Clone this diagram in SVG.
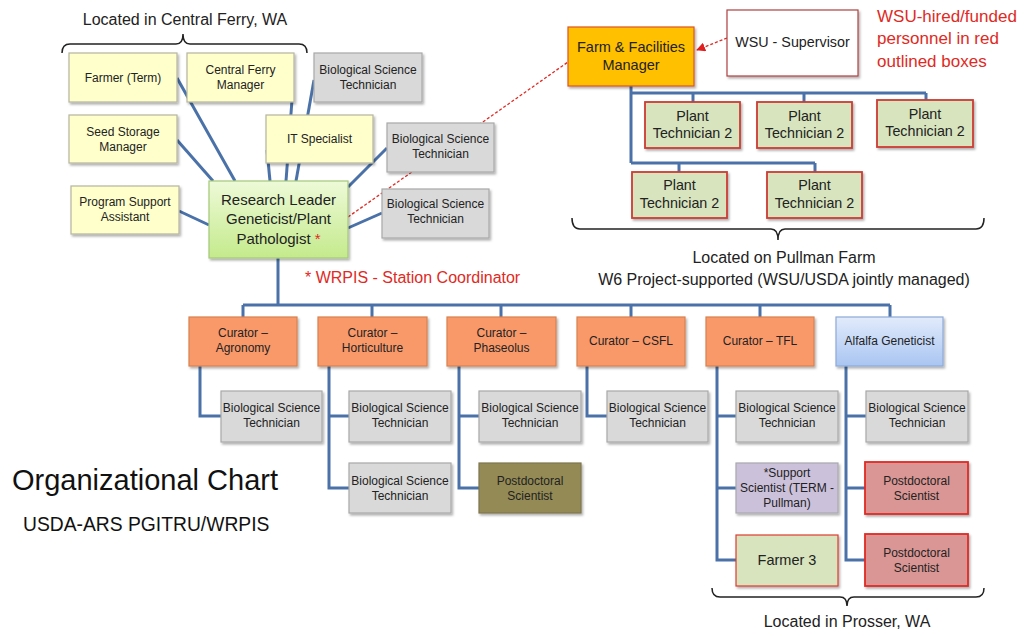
<svg xmlns="http://www.w3.org/2000/svg" width="1024" height="636" viewBox="0 0 1024 636">
<defs>
<filter id="sh" x="-10%" y="-10%" width="125%" height="130%">
<feDropShadow dx="1.5" dy="2" stdDeviation="1.2" flood-color="#000" flood-opacity="0.3"/>
</filter>
<linearGradient id="gGreen" x1="0" y1="0" x2="0" y2="1">
<stop offset="0" stop-color="#eefad8"/><stop offset="1" stop-color="#c4ea8c"/>
</linearGradient>
<linearGradient id="gBlue" x1="0" y1="0" x2="0" y2="1">
<stop offset="0" stop-color="#e2ebfb"/><stop offset="1" stop-color="#a9c5f2"/>
</linearGradient>
<marker id="ah" viewBox="0 0 10 10" refX="9" refY="5" markerWidth="7" markerHeight="7" orient="auto">
<path d="M0,0 L10,5 L0,10 z" fill="#e02020"/>
</marker>
</defs>
<style>
text{font-family:"Liberation Sans",Arial,sans-serif;fill:#222;text-anchor:middle}
.t12{font-size:12px}
.t14{font-size:14.3px}
.box{filter:url(#sh);stroke-width:1.2}
.yel{fill:#ffffcc;stroke:#b5b5a0}
.gry{fill:#d9d9d9;stroke:#a8a8a8}
.cur{fill:#f9996a;stroke:#d8804e}
.pt{fill:#d7e4bd;stroke:#cc3b33;stroke-width:1.8}
.rpd{fill:#da9694;stroke:#e02a24;stroke-width:1.8}
.con{fill:none;stroke:#4a72a8;stroke-width:3}
.brace{fill:none;stroke:#222;stroke-width:1.5}
.lbl{font-size:16px}
.red{fill:#e02a24}
</style>
<rect width="1024" height="636" fill="#fff"/>

<g id="connectors">
<line class="con" x1="235" y1="181" x2="177" y2="78"/>
<line class="con" x1="213" y1="181" x2="177" y2="140"/>
<line class="con" x1="209" y1="225" x2="179" y2="211"/>
<line class="con" x1="270" y1="181" x2="267" y2="150"/>
<line class="con" x1="286" y1="181" x2="292" y2="100"/>
<line class="con" x1="296" y1="181" x2="314" y2="80"/>
<line class="con" x1="348" y1="187" x2="387" y2="148"/>
<line class="con" x1="348" y1="228" x2="382" y2="213"/>
<path class="con" d="M278,258 V305 M243,305 H890 M243,305 V317 M372,305 V317 M501,305 V317 M631,305 V317 M760,305 V317 M890,305 V317"/>
<path class="con" d="M200,366 V416 H221"/>
<path class="con" d="M329,366 V488 H349 M329,416 H349"/>
<path class="con" d="M459,366 V488 H479 M459,416 H479"/>
<path class="con" d="M587,366 V416 H607"/>
<path class="con" d="M717,366 V560 H736 M717,416 H736 M717,488 H736"/>
<path class="con" d="M846,366 V560 H865 M846,416 H866 M846,488 H865"/>
<path class="con" d="M631,86 V163 M631,93 H926 M693,93 V102 M804,93 V102 M926,93 V100 M631,163 H815 M679,163 V172 M815,163 V172"/>
<line x1="348" y1="217" x2="568" y2="62" stroke="#e02a24" stroke-width="1.3" stroke-dasharray="3,2"/>
<line x1="727" y1="38" x2="697" y2="50" stroke="#e02a24" stroke-width="1.3" stroke-dasharray="3,2" marker-end="url(#ah)"/>
</g>

<g id="n-farmer-term"><rect class="box yel" x="69" y="53" width="108" height="49"/><text class="t12" x="123" y="82">Farmer (Term)</text></g>
<g id="n-cf-manager"><rect class="box yel" x="187" y="53" width="107" height="49"/><text class="t12" x="240.5" y="74">Central Ferry</text><text class="t12" x="240.5" y="89">Manager</text></g>
<g id="n-bst-cf1"><rect class="box gry" x="314" y="53" width="108" height="49"/><text class="t12" x="368" y="74">Biological Science</text><text class="t12" x="368" y="89">Technician</text></g>
<g id="n-seed"><rect class="box yel" x="69" y="115" width="108" height="48"/><text class="t12" x="123" y="136">Seed Storage</text><text class="t12" x="123" y="151">Manager</text></g>
<g id="n-it"><rect class="box yel" x="266" y="115" width="107" height="48"/><text class="t12" x="319.5" y="143">IT Specialist</text></g>
<g id="n-bst-cf2"><rect class="box gry" x="387" y="123" width="107" height="49"/><text class="t12" x="440.5" y="143">Biological Science</text><text class="t12" x="440.5" y="158">Technician</text></g>
<g id="n-psa"><rect class="box yel" x="71" y="186" width="108" height="48"/><text class="t12" x="125" y="206">Program Support</text><text class="t12" x="125" y="221">Assistant</text></g>
<g id="n-bst-cf3"><rect class="box gry" x="382" y="189" width="107" height="49"/><text class="t12" x="435.5" y="208">Biological Science</text><text class="t12" x="435.5" y="223">Technician</text></g>
<g id="n-rl"><rect class="box" x="209" y="181" width="139" height="77" fill="url(#gGreen)" stroke="#a6c77a"/>
<text x="278.5" y="205" style="font-size:15px">Research Leader</text>
<text x="278.5" y="224" style="font-size:15px">Geneticist/Plant</text>
<text x="278.5" y="244" style="font-size:15px">Pathologist <tspan class="red">*</tspan></text></g>

<g id="n-ffm"><rect class="box" x="568" y="27" width="126" height="59" fill="#ffc000" stroke="#e0521e" stroke-width="1.8"/><text x="631" y="52" style="font-size:14.5px">Farm &amp; Facilities</text><text x="631" y="70" style="font-size:14.5px">Manager</text></g>
<g id="n-wsu"><rect class="box" x="727" y="10" width="131" height="66" fill="#fff" stroke="#b04040" stroke-width="1.6"/><text x="792.5" y="47" style="font-size:14.3px">WSU - Supervisor</text></g>
<g id="n-pt1"><rect class="box pt" x="645" y="102" width="95" height="46"/><text class="t14" x="692.5" y="121">Plant</text><text class="t14" x="692.5" y="138">Technician 2</text></g>
<g id="n-pt2"><rect class="box pt" x="757" y="102" width="95" height="46"/><text class="t14" x="804.5" y="121">Plant</text><text class="t14" x="804.5" y="138">Technician 2</text></g>
<g id="n-pt3"><rect class="box pt" x="877" y="100" width="96" height="47"/><text class="t14" x="925" y="119">Plant</text><text class="t14" x="925" y="136">Technician 2</text></g>
<g id="n-pt4"><rect class="box pt" x="632" y="172" width="95" height="46"/><text class="t14" x="679.5" y="190">Plant</text><text class="t14" x="679.5" y="208">Technician 2</text></g>
<g id="n-pt5"><rect class="box pt" x="767" y="172" width="95" height="46"/><text class="t14" x="814.5" y="190">Plant</text><text class="t14" x="814.5" y="208">Technician 2</text></g>

<g id="n-cur-agr"><rect class="box cur" x="189" y="317" width="108" height="49"/><text class="t12" x="243" y="337">Curator –</text><text class="t12" x="243" y="352">Agronomy</text></g>
<g id="n-cur-hort"><rect class="box cur" x="318" y="317" width="109" height="49"/><text class="t12" x="372.5" y="337">Curator –</text><text class="t12" x="372.5" y="352">Horticulture</text></g>
<g id="n-cur-phas"><rect class="box cur" x="447" y="317" width="109" height="49"/><text class="t12" x="501.5" y="337">Curator –</text><text class="t12" x="501.5" y="352">Phaseolus</text></g>
<g id="n-cur-csfl"><rect class="box cur" x="577" y="317" width="108" height="49"/><text class="t12" x="631" y="345">Curator – CSFL</text></g>
<g id="n-cur-tfl"><rect class="box cur" x="706" y="317" width="108" height="49"/><text class="t12" x="760" y="345">Curator – TFL</text></g>
<g id="n-alfalfa"><rect class="box" x="836" y="317" width="107" height="49" fill="url(#gBlue)" stroke="#8eaad8"/><text class="t12" x="889.5" y="345">Alfalfa Geneticist</text></g>

<g id="n-agr-bst"><rect class="box gry" x="221" y="391" width="101" height="51"/><text class="t12" x="271.5" y="412">Biological Science</text><text class="t12" x="271.5" y="427">Technician</text></g>
<g id="n-hort-bst1"><rect class="box gry" x="349" y="391" width="102" height="51"/><text class="t12" x="400" y="412">Biological Science</text><text class="t12" x="400" y="427">Technician</text></g>
<g id="n-hort-bst2"><rect class="box gry" x="349" y="463" width="102" height="50"/><text class="t12" x="400" y="485">Biological Science</text><text class="t12" x="400" y="500">Technician</text></g>
<g id="n-phas-bst"><rect class="box gry" x="479" y="391" width="102" height="51"/><text class="t12" x="530" y="412">Biological Science</text><text class="t12" x="530" y="427">Technician</text></g>
<g id="n-phas-pd"><rect class="box" x="479" y="463" width="102" height="50" fill="#948a54" stroke="#7d7650"/><text class="t12" x="530" y="485">Postdoctoral</text><text class="t12" x="530" y="500">Scientist</text></g>
<g id="n-csfl-bst"><rect class="box gry" x="607" y="391" width="101" height="51"/><text class="t12" x="657.5" y="412">Biological Science</text><text class="t12" x="657.5" y="427">Technician</text></g>
<g id="n-tfl-bst"><rect class="box gry" x="736" y="391" width="102" height="51"/><text class="t12" x="787" y="412">Biological Science</text><text class="t12" x="787" y="427">Technician</text></g>
<g id="n-tfl-support"><rect class="box" x="736" y="463" width="102" height="50" fill="#ccc1da" stroke="#a8a8b0"/><text class="t12" x="787" y="477">*Support</text><text class="t12" x="787" y="492">Scientist (TERM -</text><text class="t12" x="787" y="507">Pullman)</text></g>
<g id="n-tfl-farmer3"><rect class="box" x="736" y="535" width="102" height="51" fill="#d7e4bd" stroke="#e03a30" stroke-width="1.8"/><text x="787" y="565" style="font-size:14.5px">Farmer 3</text></g>
<g id="n-alf-bst"><rect class="box gry" x="866" y="391" width="102" height="51"/><text class="t12" x="917" y="412">Biological Science</text><text class="t12" x="917" y="427">Technician</text></g>
<g id="n-alf-pd1"><rect class="box rpd" x="865" y="462" width="103" height="52"/><text class="t12" x="916.5" y="485">Postdoctoral</text><text class="t12" x="916.5" y="500">Scientist</text></g>
<g id="n-alf-pd2"><rect class="box rpd" x="865" y="534" width="103" height="52"/><text class="t12" x="916.5" y="557">Postdoctoral</text><text class="t12" x="916.5" y="572">Scientist</text></g>

<g id="annotations">
<path class="brace" d="M62,53 Q62,44 70,44 L176,44 Q183,44 183,34 Q183,44 190,44 L299,44 Q307,44 307,53"/>
<text class="lbl" x="185" y="25">Located in Central Ferry, WA</text>
<path class="brace" d="M572,218 Q572,229 580,229 L771,229 Q778,229 778,240 Q778,229 785,229 L976,229 Q984,229 984,218"/>
<text class="lbl" x="784" y="263">Located on Pullman Farm</text>
<text class="lbl" x="784" y="285">W6 Project-supported (WSU/USDA jointly managed)</text>
<path class="brace" d="M712,588 Q712,597 720,597 L840,597 Q847,597 847,606 Q847,597 854,597 L976,597 Q984,597 984,588"/>
<text class="lbl" x="847" y="627">Located in Prosser, WA</text>
<text class="red" x="877" y="22" style="font-size:17px;text-anchor:start">WSU-hired/funded</text>
<text class="red" x="877" y="44" style="font-size:17px;text-anchor:start">personnel in red</text>
<text class="red" x="877" y="67" style="font-size:17px;text-anchor:start">outlined boxes</text>
<text class="red" x="305" y="283" style="font-size:16px;text-anchor:start">* WRPIS - Station Coordinator</text>
<text x="12" y="490" style="font-size:29px;text-anchor:start;fill:#111">Organizational Chart</text>
<text x="23" y="531" style="font-size:19.3px;text-anchor:start;fill:#111">USDA-ARS PGITRU/WRPIS</text>
</g>
</svg>
